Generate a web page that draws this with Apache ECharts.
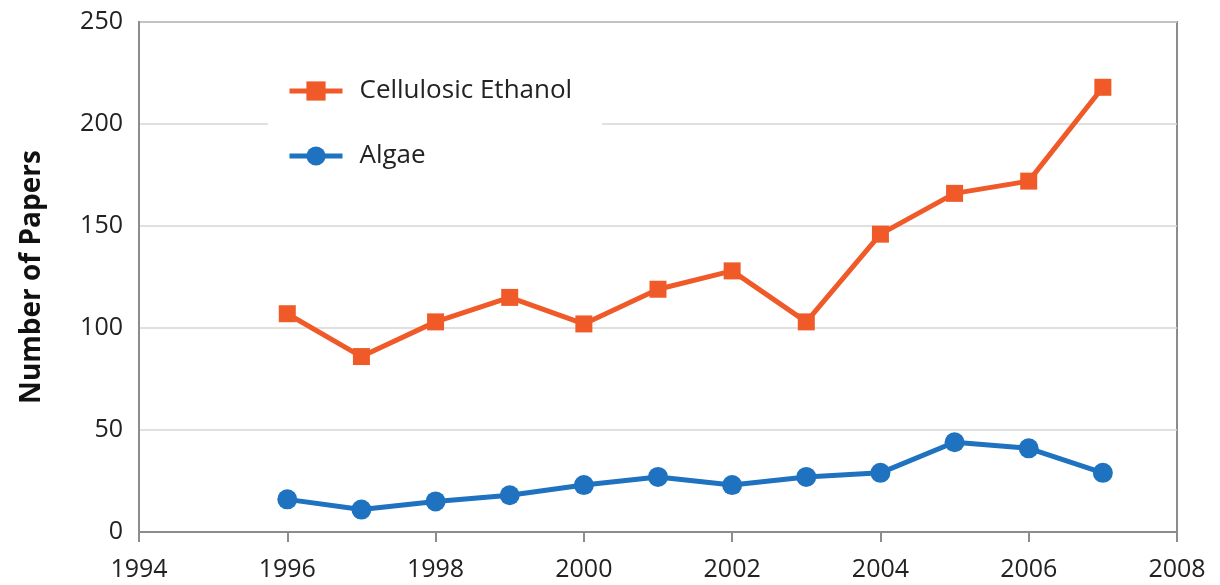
<!DOCTYPE html>
<html>
<head>
<meta charset="utf-8">
<script src="https://cdn.jsdelivr.net/npm/echarts@6/dist/echarts.min.js"></script>
<style>
  html, body { margin: 0; padding: 0; background: #fff; }
  #chart { width: 1220px; height: 585px; }
</style>
</head>
<body>
<div id="chart"></div>
<script>
// values
const years = [1996, 1997, 1998, 1999, 2000, 2001, 2002, 2003, 2004, 2005, 2006, 2007]
const cellulosic = [107, 86, 103, 115, 102, 119, 128, 103, 146, 166, 172, 218]
const algae = [16, 11, 15, 18, 23, 27, 23, 27, 29, 44, 41, 29]
const xTicks = [1994, 1996, 1998, 2000, 2002, 2004, 2006, 2008]
const yTicks = [0, 50, 100, 150, 200, 250]

const font = '"Open Sans", sans-serif'
const pair = (ys) => years.map((y, i) => [y, ys[i]])

const myChart = echarts.init(document.getElementById('chart'))
myChart.setOption({
  animation: false,
  textStyle: { fontFamily: font },
  grid: {
    left: 139, right: 43, top: 22, bottom: 53,
    show: true, borderColor: '#8c8c8c', borderWidth: 2
  },
  legend: {
    orient: 'vertical',
    left: 268, top: 64,
    padding: [12, 30, 12, 19],
    backgroundColor: '#fff',
    itemWidth: 53, itemHeight: 24, itemGap: 35,
    lineStyle: { width: 5 },
    textStyle: { fontSize: 26, lineHeight: 30, color: '#222', fontFamily: font, padding: [0, 0, 0, 12] },
    data: ['Cellulosic Ethanol', 'Algae']
  },
  xAxis: {
    type: 'value',
    min: xTicks[0], max: xTicks[xTicks.length - 1], interval: 2,
    axisLine: { lineStyle: { color: '#8c8c8c', width: 2 } },
    axisTick: { show: true, length: 10, lineStyle: { color: '#8c8c8c', width: 2 } },
    axisLabel: { fontSize: 25, color: '#222', margin: 25, formatter: v => String(v) },
    splitLine: { show: false }
  },
  yAxis: {
    type: 'value',
    min: yTicks[0], max: yTicks[yTicks.length - 1], interval: 50,
    name: 'Number of Papers',
    nameLocation: 'middle',
    nameGap: 93,
    nameTextStyle: { fontSize: 28, fontWeight: 'bold', color: '#111', fontFamily: font },
    axisLine: { show: true, lineStyle: { color: '#8c8c8c', width: 2 } },
    axisTick: { show: false },
    axisLabel: { fontSize: 25, color: '#222', margin: 16 },
    splitLine: { lineStyle: { color: '#d6d6d6', width: 1.5 } }
  },
  series: [
    {
      name: 'Cellulosic Ethanol',
      type: 'line',
      data: pair(cellulosic),
      symbol: 'rect',
      symbolSize: 17,
      z: 3,
      lineStyle: { color: '#f05a28', width: 5 },
      itemStyle: { color: '#f05a28' }
    },
    {
      name: 'Algae',
      type: 'line',
      data: pair(algae),
      symbol: 'circle',
      symbolSize: 20,
      z: 3,
      lineStyle: { color: '#1f72c0', width: 5 },
      itemStyle: { color: '#1f72c0' }
    }
  ]
})
</script>
</body>
</html>
